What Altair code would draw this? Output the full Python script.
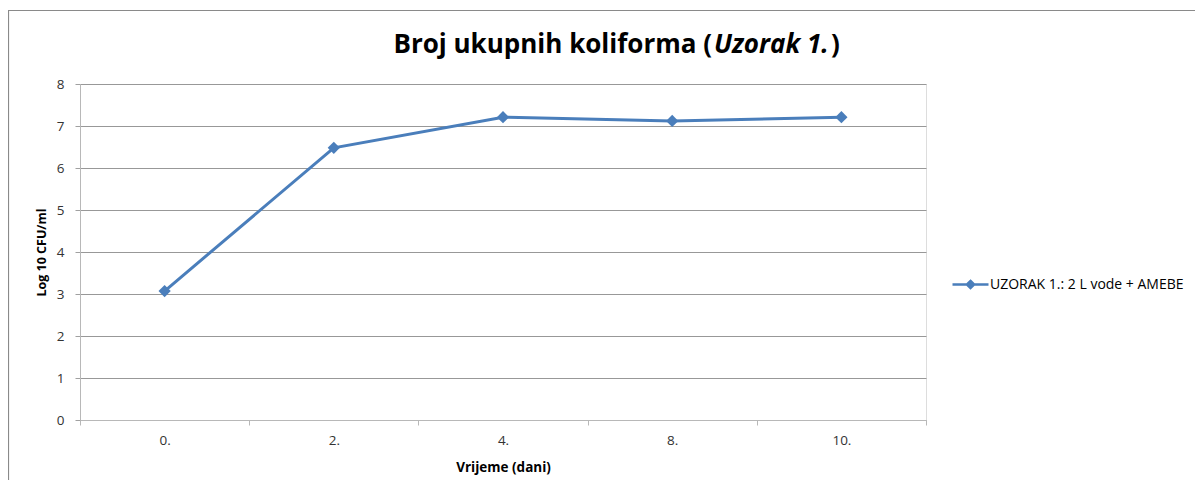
import altair as alt
import pandas as pd

# ---- data ----
days = ["0.", "2.", "4.", "8.", "10."]
values = [3.07, 6.48, 7.21, 7.12, 7.21]
series_name = "UZORAK 1.: 2 L vode + AMEBE"
y_ticks = [0, 1, 2, 3, 4, 5, 6, 7, 8]
title_parts = ["Broj ukupnih koliforma (", "Uzorak 1.", ")"]
x_title = "Vrijeme (dani)"
y_title = "Log 10 CFU/ml"

df = pd.DataFrame({
    "day": days,
    "pos": [i + 0.5 for i in range(len(days))],
    "value": values,
    "series": [series_name] * len(days),
})

W, H = 846, 336
BLUE = "#4a7ebb"
FONT = "Open Sans"

cats_js = "[" + ",".join("'" + d + "'" for d in days) + "]"

x_enc = alt.X(
    "pos:Q",
    scale=alt.Scale(domain=[0, len(days)], nice=False, zero=False),
    axis=alt.Axis(
        values=[i * 0.5 for i in range(2 * len(days) + 1)],
        labelExpr="datum.value % 1 == 0 ? '' : " + cats_js + "[floor(datum.value)]",
        tickOpacity={"condition": {"test": "datum.value % 1 == 0", "value": 1}, "value": 0},
        labelOverlap=False,
        labelFlush=False,
        grid=False,
        domainColor="#b8b8b8",
        tickColor="#b8b8b8",
        tickSize=5,
        labelPadding=8,
        labelFont=FONT,
        labelFontSize=13.5,
        labelColor="#333333",
        title=x_title,
        titleFont=FONT,
        titleFontSize=13.5,
        titleFontWeight="bold",
        titleColor="#000000",
        titleY=47,
        titleBaseline="middle",
    ),
)

y_enc = alt.Y(
    "value:Q",
    scale=alt.Scale(domain=[0, 8], nice=False),
    axis=alt.Axis(
        values=y_ticks,
        grid=True,
        gridColor="#989898",
        domainColor="#b8b8b8",
        tickColor="#a0a0a0",
        tickSize=5,
        labelPadding=11,
        labelFont=FONT,
        labelFontSize=13.5,
        labelColor="#333333",
        title=y_title,
        titleFont=FONT,
        titleFontSize=12.5,
        titleFontWeight="bold",
        titleColor="#000000",
        titleAngle=-90,
        titleX=-39,
        titleY=H / 2,
        titleAlign="center",
        titleBaseline="middle",
    ),
)

base = alt.Chart(df)

line = base.mark_line(strokeWidth=3).encode(
    x=x_enc,
    y=y_enc,
    color=alt.Color(
        "series:N",
        scale=alt.Scale(range=[BLUE]),
        legend=alt.Legend(
            title=None,
            orient="none",
            legendX=871,
            legendY=181,
            symbolType="M-1,0H1M0,-0.2L0.2,0L0,0.2L-0.2,0Z",
            symbolSize=1296,
            symbolStrokeWidth=2.5,
            symbolFillColor=BLUE,
            symbolStrokeColor=BLUE,
            labelFont=FONT,
            labelFontSize=14,
            labelColor="#000000",
            labelOffset=0,
            labelLimit=400,
            padding=0,
        ),
    ),
)

points = base.mark_point(shape="diamond", filled=True, size=150, opacity=1, color=BLUE).encode(
    x="pos:Q",
    y="value:Q",
)

one = pd.DataFrame({"k": [0]})

frame = alt.Chart(one).mark_rect(filled=False, stroke="#8a8a8a", strokeWidth=1.2).encode(
    x=alt.value(-71.5), y=alt.value(-73.5), x2=alt.value(1200), y2=alt.value(500)
)

TS = 26
t1 = alt.Chart(one).mark_text(
    text=title_parts[0], font=FONT, fontSize=TS, fontWeight="bold", align="right",
    baseline="alphabetic", color="#000000"
).encode(x=alt.value(632), y=alt.value(-31))
t2 = alt.Chart(one).mark_text(
    text=title_parts[1], font=FONT, fontSize=TS, fontWeight="bold", fontStyle="italic",
    align="left", baseline="alphabetic", color="#000000"
).encode(x=alt.value(634), y=alt.value(-31))
t3 = alt.Chart(one).mark_text(
    text=title_parts[2], font=FONT, fontSize=TS, fontWeight="bold", align="left",
    baseline="alphabetic", color="#000000"
).encode(x=alt.value(751), y=alt.value(-31))

chart = alt.layer(frame, line, points, t1, t2, t3).properties(
    width=W,
    height=H,
    autosize=alt.AutoSizeParams(type="none"),
    padding={"left": 72, "top": 76, "right": 269, "bottom": 60},
).configure_view(stroke=None).configure(background="#ffffff")

chart.save("out.html", embed_options={"renderer": "svg", "actions": False})
